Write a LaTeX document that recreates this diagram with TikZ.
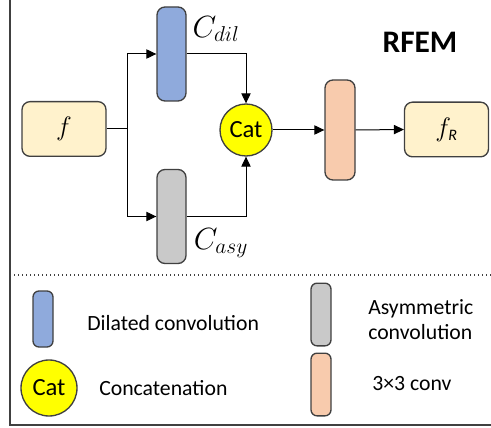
\documentclass[tikz,border=0pt]{standalone}
\usepackage{fix-cm}
\usepackage{fontspec}
\setmainfont{Carlito}
\usetikzlibrary{arrows.meta}
\definecolor{boxline}{HTML}{404040}
\definecolor{featfill}{HTML}{FFF2CC}
\definecolor{dilfill}{HTML}{8FAADC}
\definecolor{asyfill}{HTML}{C9C9C9}
\definecolor{convfill}{HTML}{F8CBAD}
\definecolor{catfill}{HTML}{FFFF00}
\tikzset{
  blk/.style={draw=boxline, line width=1pt, rounded corners=6pt, inner sep=0pt},
  featbox/.style={blk, fill=featfill, minimum width=63pt, minimum height=41pt},
  bar/.style={blk, minimum width=21.75pt, minimum height=70.5pt},
  smallbar/.style={blk, rounded corners=4.5pt, minimum width=15pt},
  catnode/.style={circle, draw=boxline, line width=1pt, fill=catfill, inner sep=0pt,
    font=\fontsize{18.5}{22}\selectfont},
  flow/.style={line width=0.75pt, -{Triangle[length=7.5pt,width=7pt]}},
  legtext/.style={anchor=west, inner sep=0pt, font=\fontsize{16.3}{18.75}\selectfont, align=left},
  mathlab/.style={inner sep=0pt, font=\fontsize{23}{27}\selectfont}
}
\begin{document}
\begin{tikzpicture}[x=0.75pt, y=-0.75pt]
  %%%%% FRAME %%%%%
  \useasboundingbox (0,0) rectangle (491,427);
  \draw[line width=1pt, boxline] (10,0) -- (10,425) -- (491,425);
  \draw[line width=1pt, boxline, dotted] (10,275) -- (491,275);

  %%%%% BLOCKS %%%%%
  \node[featbox, font=\fontsize{20}{24}\selectfont] (f) at (64,129) {$f$};
  \node[bar, fill=dilfill] (dil) at (171.5,54) {};
  \node[bar, fill=asyfill] (asy) at (171.5,216.5) {};
  \node[catnode, minimum size=39pt] (cat) at (246,130) {Cat};
  \node[bar, fill=convfill, minimum width=22.5pt, minimum height=75pt] (conv) at (340,130) {};
  \node[featbox, font=\fontsize{20}{24}\selectfont] (fr) at (446.5,129.5)
    {$f_{\mbox{\fontsize{12}{14}\selectfont\itshape R}}$};

  \node[mathlab] (dillab) at (216,29) {$C_{dil}$};
  \node[mathlab] (asylab) at (221,243) {$C_{asy}$};
  \node[inner sep=0pt, font=\bfseries\fontsize{23.5}{28}\selectfont] (title) at (420,42) {RFEM};

  %%%%% CONNECTORS %%%%%
  \coordinate (split) at (127,129);
  \draw[line width=0.75pt] (f.east) -- (split);
  \draw[flow] (split) |- (dil.west);
  \draw[flow] (split) |- (asy.west);
  \draw[flow] (dil.east) -| (cat.north);
  \draw[flow] (asy.east) -| (cat.south);
  \draw[flow] (cat.east) -- (conv.west);
  \draw[flow] (conv.east) -- (fr.west);

  %%%%% LEGEND %%%%%
  \node[smallbar, fill=dilfill, minimum height=42pt] (ldil) at (43,319) {};
  \node[legtext] (ldiltext) at (87,323) {Dilated convolution};
  \node[smallbar, fill=asyfill, minimum height=47pt] (lasy) at (321,314.5) {};
  \node[legtext] (lasytext) at (368,319.5) {Asymmetric\\convolution};
  \node[catnode, minimum size=42pt] (lcat) at (49,388) {Cat};
  \node[legtext] (lcattext) at (99,388) {Concatenation};
  \node[smallbar, fill=convfill, minimum height=47pt] (lconv) at (321,384.5) {};
  \node[legtext] (lconvtext) at (372,384) {3×3 conv};
\end{tikzpicture}
\end{document}
